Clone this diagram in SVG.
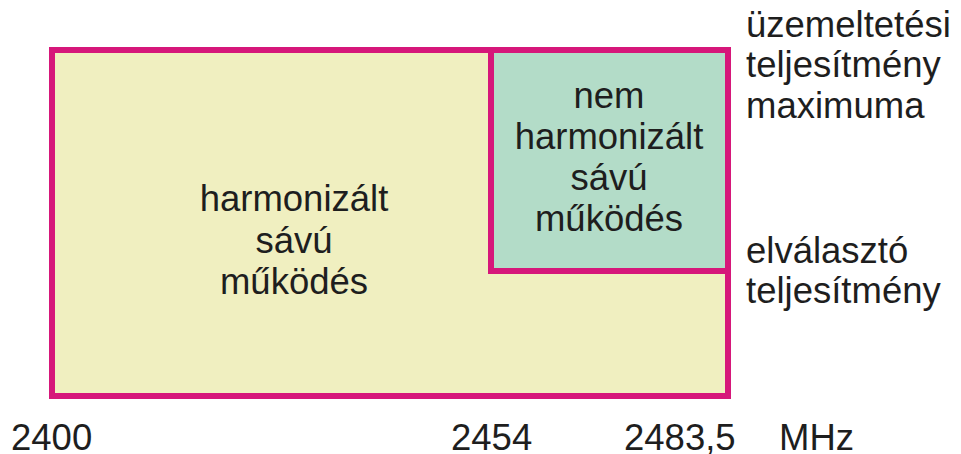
<svg xmlns="http://www.w3.org/2000/svg" width="961" height="454" viewBox="0 0 961 454">
<style>
text{font-family:"Liberation Sans",Arial,sans-serif;font-size:36.5px;fill:#1e1e1e}
.c{text-anchor:middle}
.box{stroke:#d6177a;stroke-width:6}
</style>
<rect width="961" height="454" fill="#ffffff"/>
<g id="harmonized">
<rect class="box" x="52" y="50" width="676" height="346" fill="#f0efc0"/>
<text class="c" x="294" y="211">harmonizált</text>
<text class="c" x="294" y="253">sávú</text>
<text class="c" x="294" y="294">működés</text>
</g>
<g id="nonharmonized">
<rect class="box" x="491" y="50" width="237" height="221" fill="#b3dcc8"/>
<text class="c" x="609" y="108">nem</text>
<text class="c" x="609" y="149">harmonizált</text>
<text class="c" x="609" y="190">sávú</text>
<text class="c" x="609" y="231">működés</text>
</g>
<g id="labels">
<text x="746" y="37">üzemeltetési</text>
<text x="746" y="77">teljesítmény</text>
<text x="746" y="118">maximuma</text>
<text x="746" y="263">elválasztó</text>
<text x="746" y="303">teljesítmény</text>
<text x="11" y="450">2400</text>
<text x="451" y="450">2454</text>
<text x="624" y="450">2483,5</text>
<text x="779" y="450">MHz</text>
</g>
<g id="connectors"/>
</svg>
